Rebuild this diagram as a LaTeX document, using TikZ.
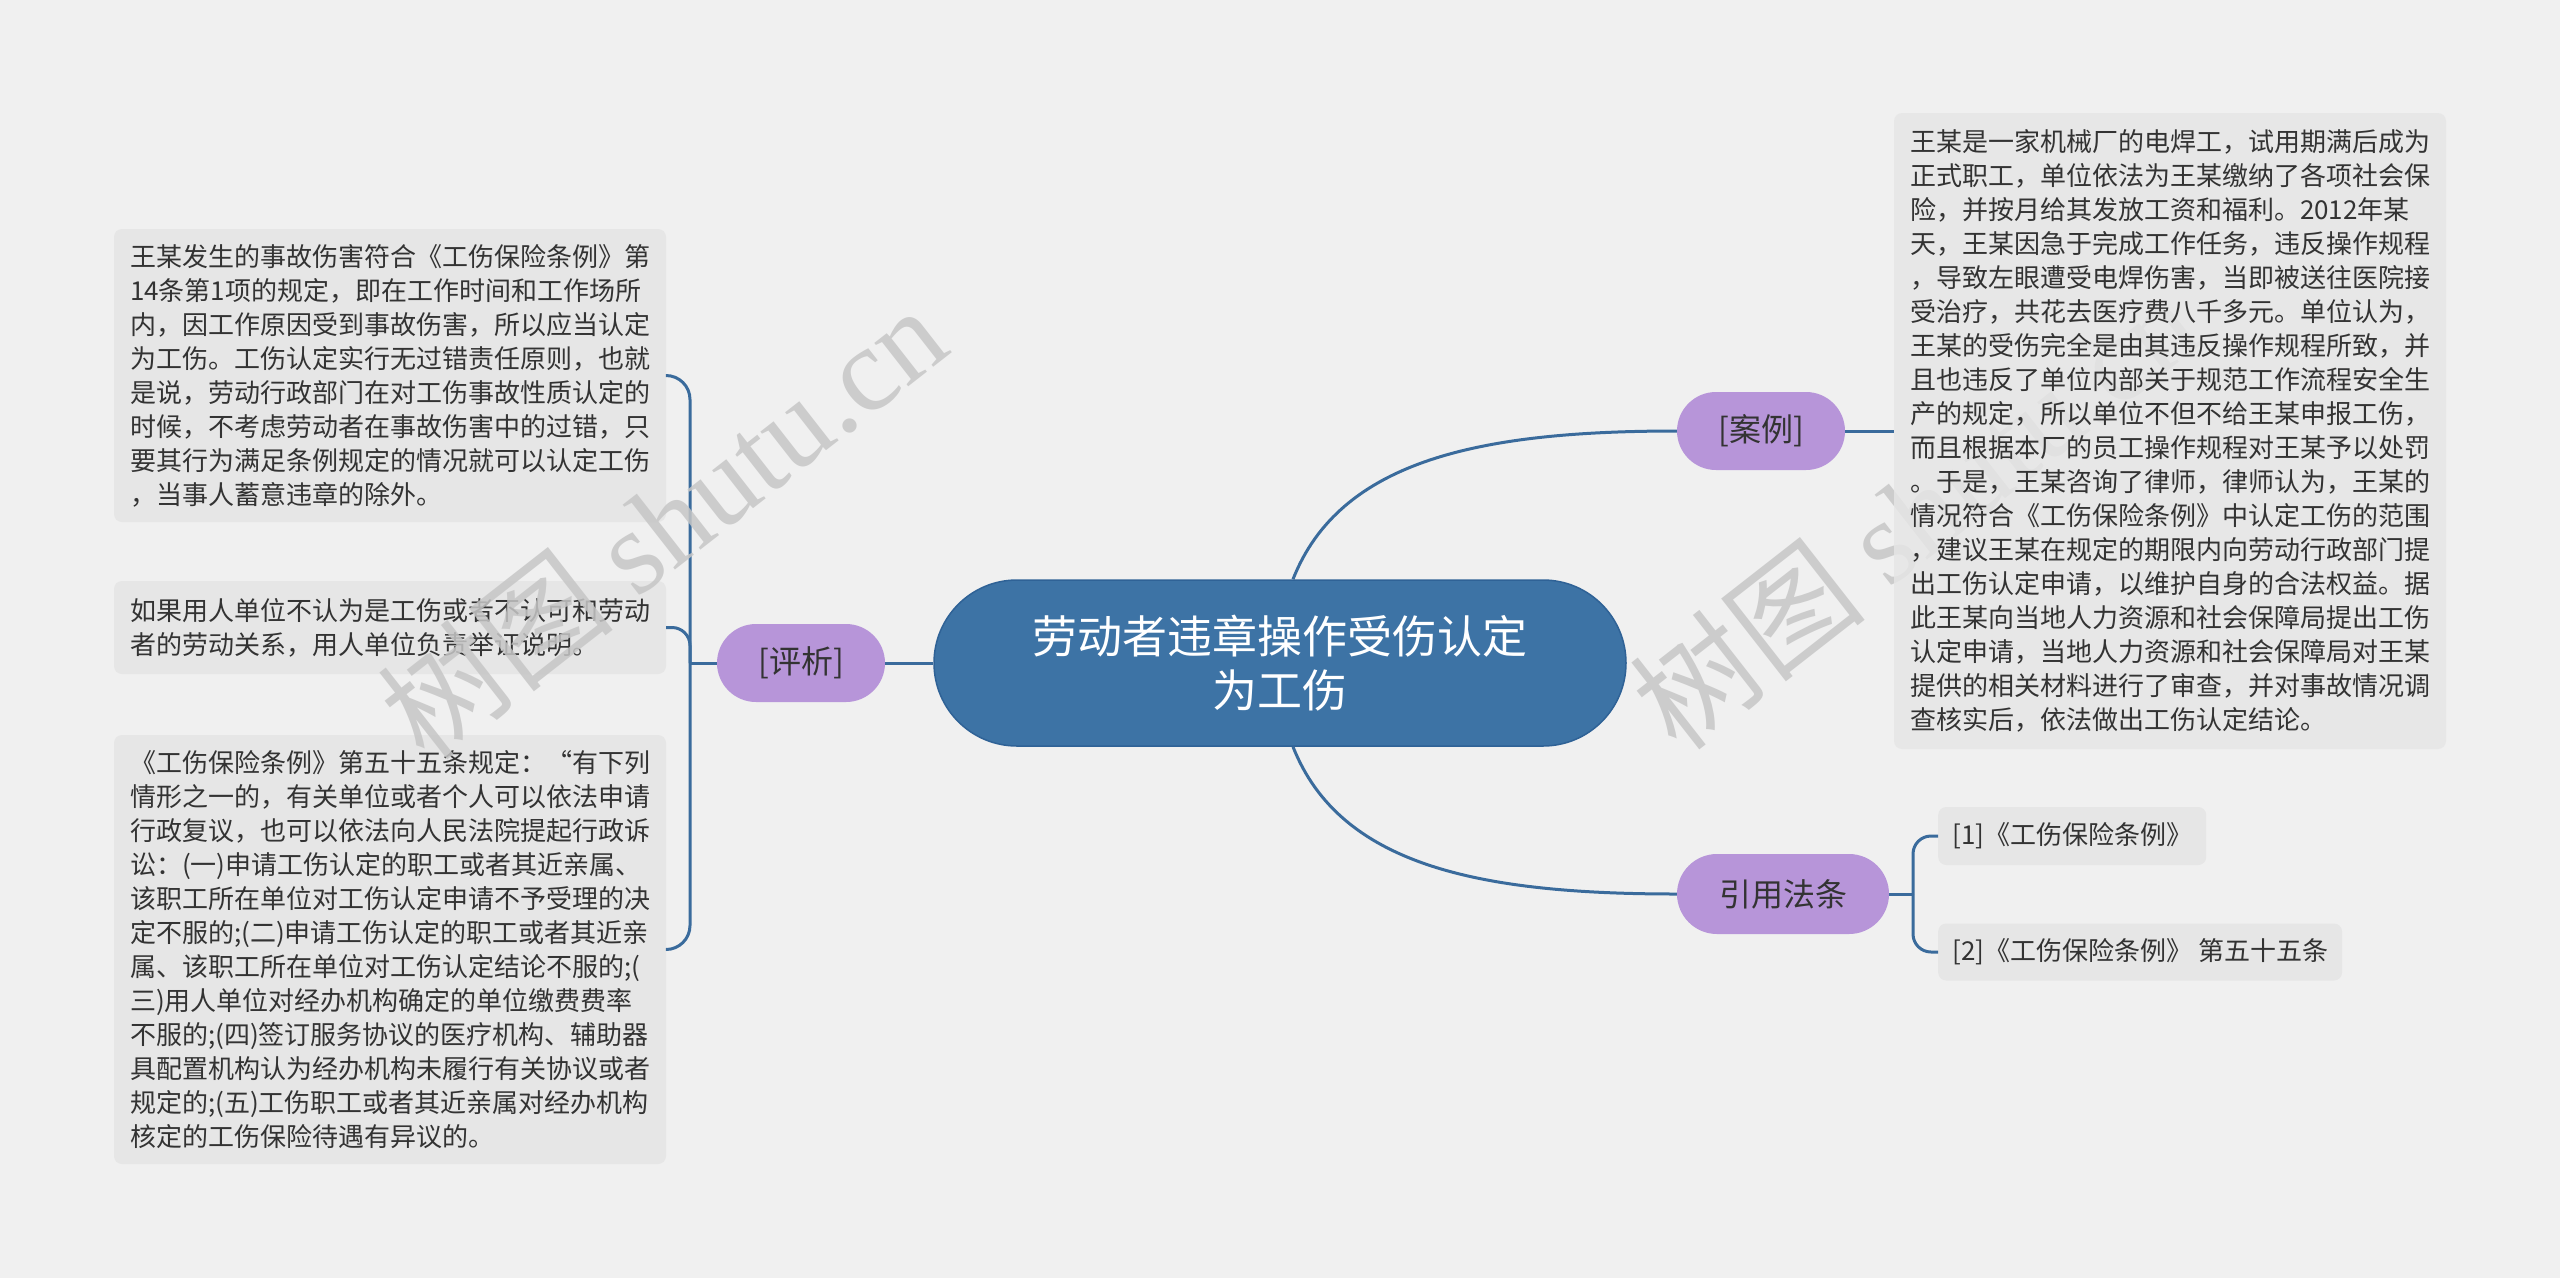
\documentclass[tikz,border=0pt]{standalone}
\usepackage{fontspec}
\setmainfont{Noto Sans CJK SC}
\newfontfamily\wmserif{Liberation Serif}
\usetikzlibrary{calc}
\definecolor{bg}{HTML}{F0F0F0}
\definecolor{boxfill}{HTML}{E6E6E6}
\definecolor{mainblue}{HTML}{3D73A5}
\definecolor{mainborder}{HTML}{2F6296}
\definecolor{purp}{HTML}{B795D9}
\definecolor{linec}{HTML}{3A6B9C}
\definecolor{txt}{HTML}{333333}
\definecolor{wmc}{HTML}{C6C6C6}
\begin{document}
\begin{tikzpicture}[x=1pt,y=-1pt,
  txtbox/.style={fill=boxfill, rounded corners=8pt, align=left, minimum width=552pt, inner sep=0pt, text=txt, font=\fontsize{26}{34}\selectfont},
  cite/.style={fill=boxfill, rounded corners=8pt, anchor=west, inner xsep=14pt, inner ysep=0pt, minimum height=58pt, text=txt, font=\fontsize{26}{34}\selectfont},
  sub/.style={fill=purp, rounded corners=39pt, minimum height=78pt, inner sep=0pt, text=txt, font=\fontsize{32}{38}\selectfont},
  root/.style={fill=mainblue, draw=mainborder, line width=1.5pt, rounded corners=83pt, minimum width=692pt, minimum height=166pt, inner sep=0pt, text=white, align=center, font=\fontsize{45}{54}\selectfont},
  conn/.style={draw=linec, line width=3pt},
  wm/.style={text=wmc, text opacity=0.85, rotate=38, font=\fontsize{120}{120}\selectfont}
]
\useasboundingbox (0,0) rectangle (2560,1278);
\fill[bg] (0,0) rectangle (2560,1278);

% right watermark lies partly under the case box
\node[wm] (wm2) at (1914,512) {树图 {\wmserif shutu.cn}};

% nodes
\node[root] (root) at (1280,663) {劳动者违章操作受伤认定\\为工伤};
\node[sub, minimum width=168pt] (anli) at (1761,431) {[案例]};
\node[sub, minimum width=168pt] (pingxi) at (801,663) {[评析]};
\node[sub, minimum width=212pt, minimum height=80pt, rounded corners=40pt] (yinyong) at (1783,894) {引用法条};

\node[txtbox, fill opacity=0.82, text opacity=1, minimum height=636pt] (casebox) at (2170,431) {王某是一家机械厂的电焊工，试用期满后成为\\
正式职工，单位依法为王某缴纳了各项社会保\\
险，并按月给其发放工资和福利。2012年某\\
天，王某因急于完成工作任务，违反操作规程\\
，导致左眼遭受电焊伤害，当即被送往医院接\\
受治疗，共花去医疗费八千多元。单位认为，\\
王某的受伤完全是由其违反操作规程所致，并\\
且也违反了单位内部关于规范工作流程安全生\\
产的规定，所以单位不但不给王某申报工伤，\\
而且根据本厂的员工操作规程对王某予以处罚\\
。于是，王某咨询了律师，律师认为，王某的\\
情况符合《工伤保险条例》中认定工伤的范围\\
，建议王某在规定的期限内向劳动行政部门提\\
出工伤认定申请，以维护自身的合法权益。据\\
此王某向当地人力资源和社会保障局提出工伤\\
认定申请，当地人力资源和社会保障局对王某\\
提供的相关材料进行了审查，并对事故情况调\\
查核实后，依法做出工伤认定结论。};

\node[txtbox, minimum height=293pt] (b1) at (390,375.5) {王某发生的事故伤害符合《工伤保险条例》第\\
14条第1项的规定，即在工作时间和工作场所\\
内，因工作原因受到事故伤害，所以应当认定\\
为工伤。工伤认定实行无过错责任原则，也就\\
是说，劳动行政部门在对工伤事故性质认定的\\
时候，不考虑劳动者在事故伤害中的过错，只\\
要其行为满足条例规定的情况就可以认定工伤\\
，当事人蓄意违章的除外。};

\node[txtbox, minimum height=93pt] (b2) at (390,627.5) {如果用人单位不认为是工伤或者不认可和劳动\\
者的劳动关系，用人单位负责举证说明。};

\node[txtbox, minimum height=429pt] (b3) at (390,949.5) {《工伤保险条例》第五十五条规定：“有下列\\
情形之一的，有关单位或者个人可以依法申请\\
行政复议，也可以依法向人民法院提起行政诉\\
讼：(一)申请工伤认定的职工或者其近亲属、\\
该职工所在单位对工伤认定申请不予受理的决\\
定不服的;(二)申请工伤认定的职工或者其近亲\\
属、该职工所在单位对工伤认定结论不服的;(\\
三)用人单位对经办机构确定的单位缴费费率\\
不服的;(四)签订服务协议的医疗机构、辅助器\\
具配置机构认为经办机构未履行有关协议或者\\
规定的;(五)工伤职工或者其近亲属对经办机构\\
核定的工伤保险待遇有异议的。};

\node[cite] (c1) at (1938,836) {[1]《工伤保险条例》};
\node[cite, minimum height=57pt] (c2) at (1938,952) {[2]《工伤保险条例》 第五十五条};

% connectors
\coordinate (lj) at (690,663);
\coordinate (rj) at (1913,894);
\draw[conn] ($(root.north)+(13,0)$) .. controls (1340,460) and (1480,431) .. (anli.west);
\draw[conn] ($(root.south)+(13,0)$) .. controls (1340,866) and (1480,894) .. (yinyong.west);
\draw[conn] (root.west) -- (pingxi.east);
\draw[conn] (anli.east) -- (casebox.west);
\draw[conn] (pingxi.west) -- (lj);
\draw[conn, rounded corners=24pt] (lj) |- (b1.east);
\draw[conn, rounded corners=18pt] (lj) |- (b2.east);
\draw[conn, rounded corners=24pt] (lj) |- (b3.east);
\draw[conn] (yinyong.east) -- (rj);
\draw[conn, rounded corners=18pt] (rj) |- (c1.west);
\draw[conn, rounded corners=18pt] (rj) |- (c2.west);

% left watermark
\node[wm] (wm1) at (662,522) {树图 {\wmserif shutu.cn}};
\end{tikzpicture}
\end{document}
